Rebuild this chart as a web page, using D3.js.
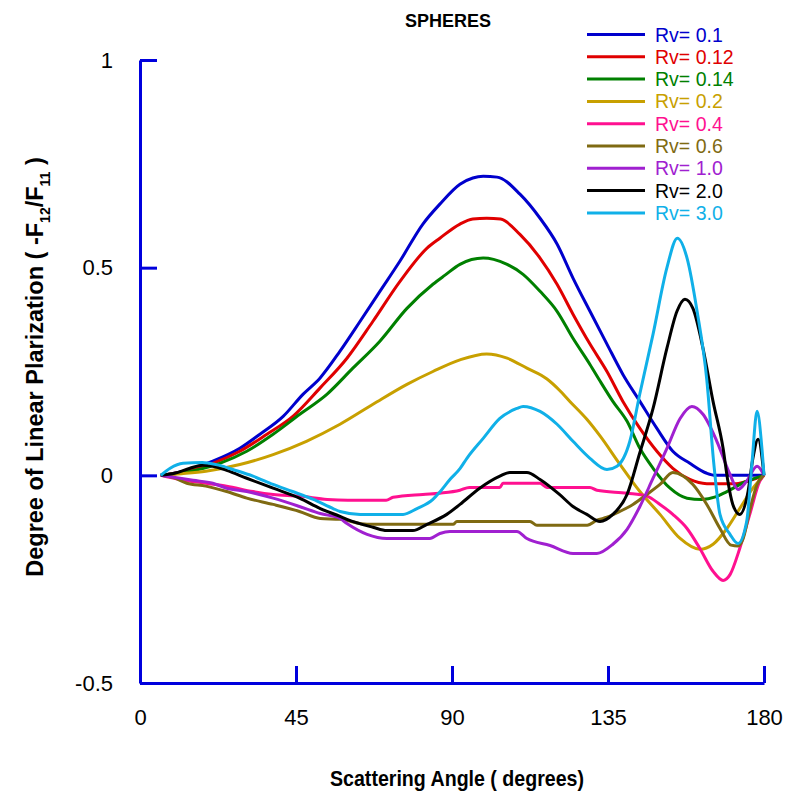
<!DOCTYPE html>
<html>
<head>
<meta charset="utf-8">
<script src="https://cdn.jsdelivr.net/npm/d3@7"></script>
<style>
  html, body { margin: 0; padding: 0; background: #fff; }
  svg { display: block; font-family: "Liberation Sans", Arial, sans-serif; }
</style>
</head>
<body>
<svg id="chart" width="793" height="794"></svg>
<script>
// Polarization curves for spheres, one [angle (deg), -F12/F11] list per Rv
const rv0_1 = [[6,0],[12,0.009],[21,0.034],[28.8,0.065],[34.6,0.099],[41.3,0.142],[47,0.195],[51.9,0.234],[57.7,0.299],[63.5,0.371],[69.2,0.443],[75,0.516],[81.6,0.605],[86.5,0.653],[92.3,0.701],[96,0.716],[99,0.72],[103,0.718],[109.6,0.677],[115.4,0.619],[120.3,0.557],[124.9,0.475],[129.8,0.395],[134.7,0.316],[139.3,0.243],[144.2,0.178],[149.1,0.113],[153.7,0.058],[158.6,0.029],[163.5,0.005],[166,0],[176,0],[180,0]];
const rv0_12 = [[6,0],[12,0.008],[21,0.029],[28.8,0.058],[36.6,0.099],[44.1,0.142],[51.9,0.21],[59.7,0.282],[67.2,0.371],[75,0.467],[82.8,0.547],[86.5,0.571],[92.3,0.605],[96,0.617],[100,0.619],[104,0.617],[109.6,0.58],[115.4,0.523],[120.3,0.46],[124.9,0.388],[129.8,0.316],[134.7,0.25],[139.3,0.178],[144.2,0.113],[149.1,0.058],[153.7,0.017],[158.6,-0.01],[163.5,-0.02],[172,-0.02],[176,-0.012],[180,0]];
const rv0_14 = [[6,0],[12,0.006],[23,0.029],[30.8,0.058],[38.4,0.099],[46.1,0.147],[53.9,0.195],[61.4,0.258],[69.2,0.323],[77,0.402],[84.5,0.46],[88,0.482],[92.3,0.508],[99,0.523],[102,0.52],[105.9,0.508],[110.5,0.484],[115.4,0.443],[120.3,0.395],[124.9,0.33],[129.8,0.267],[132.7,0.227],[136.4,0.178],[140.5,0.13],[144.2,0.065],[148,0.017],[152.9,-0.031],[157.8,-0.055],[162,-0.058],[166,-0.052],[169.3,-0.039],[175,-0.014],[180,0]];
const rv0_2 = [[6,0],[12,0.004],[19,0.01],[28.8,0.026],[38.4,0.05],[48,0.082],[57.7,0.123],[67.2,0.171],[77,0.219],[84.5,0.25],[92.3,0.278],[100,0.292],[105.9,0.282],[111.6,0.258],[117.4,0.232],[121,0.205],[124,0.178],[128.9,0.135],[132.7,0.095],[138.4,0.027],[144.2,-0.039],[150,-0.094],[155.8,-0.152],[161.5,-0.178],[165.3,-0.166],[169.3,-0.128],[173,-0.08],[176.8,-0.031],[180,0]];
const rv0_4 = [[6,0],[11.5,-0.01],[19,-0.019],[25,-0.026],[32.6,-0.039],[38.4,-0.046],[46,-0.05],[54,-0.058],[60,-0.06],[71,-0.06],[73,-0.053],[81.6,-0.046],[86.5,-0.043],[92.3,-0.036],[95,-0.029],[103.8,-0.029],[104.7,-0.019],[115.4,-0.019],[117.4,-0.029],[129.8,-0.029],[131.8,-0.036],[140.5,-0.043],[146.2,-0.05],[150,-0.07],[153.7,-0.094],[157.8,-0.128],[161.5,-0.176],[165.3,-0.231],[168.2,-0.253],[170.2,-0.239],[173,-0.176],[175.9,-0.094],[178.8,-0.014],[180,0]];
const rv0_6 = [[6,0],[9.5,-0.005],[13.5,-0.019],[19,-0.026],[25,-0.039],[30.8,-0.055],[38.4,-0.07],[46,-0.087],[52,-0.104],[57.7,-0.106],[65.5,-0.118],[90.3,-0.118],[91.4,-0.111],[112.5,-0.111],[114.5,-0.12],[129,-0.12],[131.8,-0.108],[134.7,-0.101],[138.4,-0.087],[142.2,-0.07],[146.2,-0.046],[150,-0.022],[153.7,0.007],[159.5,-0.022],[163.5,-0.07],[167.3,-0.128],[170.5,-0.168],[172.5,-0.17],[174,-0.152],[176,-0.08],[178,-0.022],[180,0]];
const rv1_0 = [[6,0],[15.3,-0.012],[21,-0.019],[25,-0.031],[30.8,-0.039],[38.4,-0.055],[46,-0.075],[52,-0.092],[57.7,-0.104],[59.7,-0.116],[65.5,-0.142],[71.2,-0.152],[83.6,-0.152],[86.5,-0.14],[89.4,-0.135],[108.7,-0.135],[111.6,-0.152],[118.3,-0.169],[124.9,-0.188],[131.8,-0.188],[136.4,-0.166],[140.5,-0.13],[144.2,-0.075],[148,-0.007],[152,0.065],[155.8,0.137],[159.2,0.166],[162.4,0.147],[166.4,0.082],[170.2,0.002],[172.5,-0.034],[175,-0.014],[178,0.022],[180,0]];
const rv2_0 = [[6,0],[10,0.005],[14.4,0.017],[18,0.024],[21,0.022],[25,0.012],[30.8,-0.007],[38.4,-0.031],[46,-0.055],[52,-0.08],[57.7,-0.099],[59.7,-0.106],[67.2,-0.125],[71.2,-0.133],[78.7,-0.133],[82.8,-0.118],[88.5,-0.094],[92.3,-0.07],[98,-0.031],[103.8,-0.002],[106.7,0.007],[111.6,0.007],[115.4,-0.01],[121,-0.046],[124.9,-0.075],[128.9,-0.094],[132.7,-0.111],[136.4,-0.094],[140.5,-0.046],[144.2,0.055],[148,0.161],[152,0.306],[154.9,0.395],[157.2,0.424],[159.5,0.402],[162.4,0.306],[165.3,0.178],[168.2,0.065],[169.5,-0.01],[171,-0.07],[173,-0.094],[175.4,-0.039],[176.8,0.041],[178.3,0.087],[180,0]];
const rv3_0 = [[6,0],[8.7,0.017],[12.4,0.029],[18,0.031],[20,0.029],[23,0.024],[26.8,0.014],[32.6,-0.002],[38.4,-0.022],[44,-0.039],[50,-0.058],[55.7,-0.08],[57.7,-0.087],[63.5,-0.094],[75.9,-0.094],[79.9,-0.08],[84.5,-0.058],[86.5,-0.04],[89.4,-0.01],[92.3,0.016],[94.3,0.041],[99,0.089],[103.8,0.137],[108.7,0.161],[110.5,0.166],[115.4,0.154],[120.3,0.123],[124.9,0.082],[129.8,0.041],[134.7,0.014],[137.6,0.022],[141.3,0.082],[144.2,0.197],[148,0.34],[152,0.5],[155,0.571],[157.8,0.523],[160.7,0.395],[163.5,0.23],[165.5,0.03],[167.3,-0.094],[170.2,-0.142],[172.5,-0.164],[175,-0.111],[176.5,0.026],[178,0.154],[179.4,0.065],[180,0]];

const seriesNames = ["Rv= 0.1","Rv= 0.12","Rv= 0.14","Rv= 0.2","Rv= 0.4","Rv= 0.6","Rv= 1.0","Rv= 2.0","Rv= 3.0"];
const seriesData = [rv0_1, rv0_12, rv0_14, rv0_2, rv0_4, rv0_6, rv1_0, rv2_0, rv3_0];
const seriesColors = ["#0000cc","#e00000","#008000","#c8a000","#ff1090","#7f6a12","#a020d0","#000000","#10b0e8"];

const xTicks = [0, 45, 90, 135, 180];
const yTicks = [-0.5, 0, 0.5, 1];
const yTickLabels = ["-0.5", "0", "0.5", "1"];

const svg = d3.select("#chart");
svg.append("rect").attr("width", 793).attr("height", 794).attr("fill", "#fff");

const x = d3.scaleLinear().domain([0, 180]).range([140, 764]);
const y = d3.scaleLinear().domain([-0.5, 1]).range([683, 60]);
const axisColor = "#0000dd";

// curves
const line = d3.line().x(d => x(d[0])).y(d => y(d[1])).curve(d3.curveMonotoneX);
svg.append("g").selectAll("path").data(seriesData).join("path")
  .attr("d", line)
  .attr("fill", "none")
  .attr("stroke", (d, i) => seriesColors[i])
  .attr("stroke-width", 3)
  .attr("stroke-linejoin", "round");

// axes
const yAxis = svg.append("g").attr("transform", `translate(${x(0)},0)`)
  .call(d3.axisLeft(y).tickValues(yTicks).tickSize(-17).tickSizeOuter(0).tickPadding(27)
    .tickFormat((d, i) => yTickLabels[i]));
const xAxis = svg.append("g").attr("transform", `translate(0,${y(-0.5)})`)
  .call(d3.axisBottom(x).tickValues(xTicks).tickSize(-17).tickSizeOuter(0).tickPadding(26));
[yAxis, xAxis].forEach(g => {
  g.select(".domain").attr("stroke", axisColor).attr("stroke-width", 3);
  g.selectAll(".tick line").attr("stroke", axisColor).attr("stroke-width", 3);
  g.selectAll(".tick text").attr("fill", "#000").style("font-size", "22px")
    .style("font-family", "'Liberation Sans', Arial, sans-serif");
});
xAxis.selectAll(".tick").filter(d => d === 0).select("line").remove();

// title
svg.append("text").attr("x", 448).attr("y", 27).attr("text-anchor", "middle")
  .style("font-size", "18px").style("font-weight", "bold").text("SPHERES");

// x title
svg.append("text").attr("x", 457).attr("y", 786).attr("text-anchor", "middle")
  .style("font-size", "22px").style("font-weight", "bold")
  .attr("textLength", 254).attr("lengthAdjust", "spacingAndGlyphs")
  .text("Scattering Angle ( degrees)");

// y title with subscripts
const yt = svg.append("text").attr("transform", "translate(43,367) rotate(-90)")
  .attr("text-anchor", "middle").style("font-size", "23.5px").style("font-weight", "bold");
yt.append("tspan").text("Degree of Linear Plarization ( -F");
yt.append("tspan").attr("dy", 7).style("font-size", "14px").text("12");
yt.append("tspan").attr("dy", -7).text("/F");
yt.append("tspan").attr("dy", 7).style("font-size", "14px").text("11");
yt.append("tspan").attr("dy", -7).text(" )");

// legend
const legend = svg.append("g");
seriesNames.forEach((name, i) => {
  const ly = 34.5 + i * 22.3;
  legend.append("line").attr("x1", 587).attr("x2", 645).attr("y1", ly).attr("y2", ly)
    .attr("stroke", seriesColors[i]).attr("stroke-width", 3);
  legend.append("text").attr("x", 655).attr("y", ly).attr("dy", "0.36em")
    .attr("fill", seriesColors[i]).style("font-size", "19.5px").text(name);
});
</script>
</body>
</html>
